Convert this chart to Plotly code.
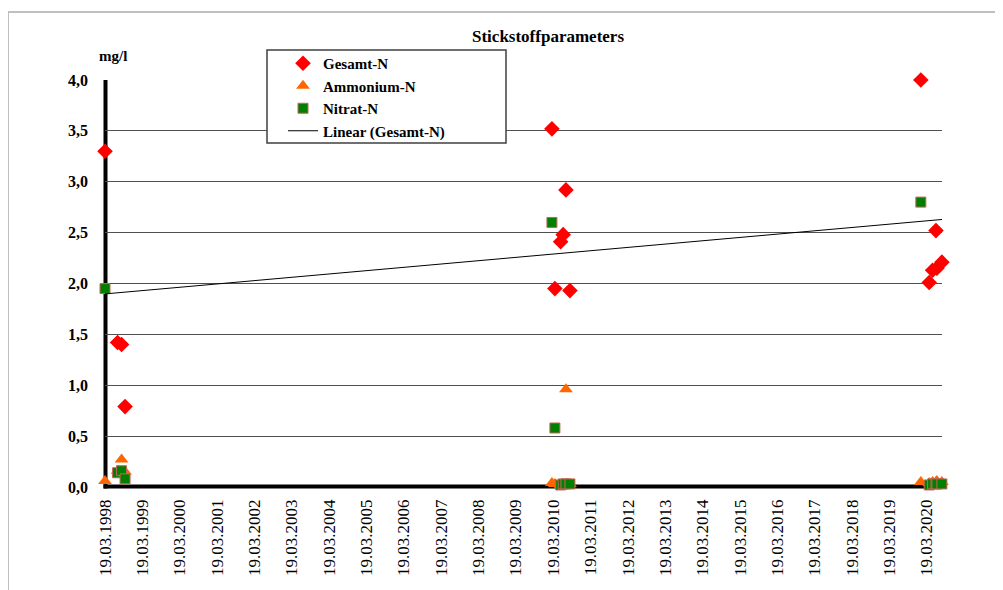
import numpy as np
import pandas as pd
import plotly.graph_objects as go

# ---- data ----
dates = ["1998-03-19", "1998-07-20", "1998-08-28", "1998-10-01",
         "2010-03-06", "2010-04-04", "2010-05-30", "2010-06-24", "2010-07-21", "2010-08-29",
         "2020-01-20", "2020-04-11", "2020-05-14", "2020-06-16", "2020-06-25", "2020-08-13"]
gesamt_n = [3.30, 1.42, 1.40, 0.79,
            3.52, 1.95, 2.41, 2.48, 2.92, 1.93,
            4.00, 2.01, 2.13, 2.52, 2.15, 2.21]
ammonium_n = [0.06, 0.16, 0.27, 0.15,
              0.04, 0.03, 0.02, 0.03, 0.96, 0.03,
              0.05, 0.04, 0.05, 0.05, 0.06, 0.05]
nitrat_n = [1.95, 0.14, 0.16, 0.08,
            2.60, 0.58, 0.02, 0.03, 0.03, 0.03,
            2.80, 0.02, 0.03, 0.03, 0.03, 0.03]

tick_years = list(range(1998, 2021))
tick_vals = [f"{y}-03-19" for y in tick_years]
tick_text = [f"19.03.{y}" for y in tick_years]
x_range = ["1998-03-19", "2020-08-14"]
y_ticks = [0, 0.5, 1.0, 1.5, 2.0, 2.5, 3.0, 3.5, 4.0]
y_grid = [0.5, 1.0, 1.5, 2.0, 2.5, 3.0, 3.5]

# linear trend of Gesamt-N (least squares over date)
d = pd.to_datetime(dates)
t = (d - pd.Timestamp("1970-01-01")).days.values.astype(float)
slope, intercept = np.polyfit(t, np.array(gesamt_n), 1)
xr = pd.to_datetime(x_range)
tr = (xr - pd.Timestamp("1970-01-01")).days.values.astype(float)
trend_y = slope * tr + intercept

FONT = "Liberation Serif, Times New Roman, DejaVu Serif, serif"

fig = go.Figure()
fig.add_trace(go.Scatter(x=dates, y=gesamt_n, mode="markers", name="Gesamt-N",
                         marker=dict(symbol="diamond", size=12, color="#FF0000",
                                     line=dict(width=0)),
                         cliponaxis=False))
fig.add_trace(go.Scatter(x=dates, y=ammonium_n, mode="markers", name="Ammonium-N",
                         marker=dict(symbol="triangle-up", size=12, color="#FF6600",
                                     line=dict(width=0)),
                         cliponaxis=False))
fig.add_trace(go.Scatter(x=dates, y=nitrat_n, mode="markers", name="Nitrat-N",
                         marker=dict(symbol="square", size=10, color="#008000",
                                     line=dict(width=1, color="#C8645A")),
                         cliponaxis=False))
fig.add_trace(go.Scatter(x=list(xr), y=list(trend_y), mode="lines",
                         name="Linear (Gesamt-N)",
                         line=dict(color="#000000", width=1)))

# page offset of the figure div (body margin)
O = 8
W, H = 1003 - O, 590 - O
L, T = 105 - O, 80 - O
R = W - L - 837
B = H - T - 407
pw, ph = W - L - R, H - T - B


def px(xp):
    return (xp - O - L) / pw


def py(yp):
    return 1 - (yp - O - T) / ph


fig.update_layout(
    width=W, height=H,
    margin=dict(l=L, r=R, t=T, b=B, pad=0),
    paper_bgcolor="white", plot_bgcolor="white",
    separators=",.",
    font=dict(family=FONT, color="black"),
    showlegend=True,
    legend=dict(x=px(283), y=py(47), xanchor="left", yanchor="top",
                bgcolor="rgba(0,0,0,0)", borderwidth=0,
                font=dict(family=FONT, size=15, weight="bold", color="black"),
                itemsizing="trace"),
    xaxis=dict(type="date", range=x_range, tickvals=tick_vals, ticktext=tick_text,
               tickangle=-90, tickfont=dict(family=FONT, size=17, color="black"),
               showgrid=False, showline=False,
               ticks="", zeroline=False, ticklabelstandoff=8),
    yaxis=dict(range=[0, 4], tickvals=y_ticks, tickformat=".1f",
               tickfont=dict(family=FONT, size=16, weight="bold", color="black"),
               showgrid=False, showline=False,
               ticks="", zeroline=False, ticklabelstandoff=16,
               minor=dict(tickvals=y_grid, showgrid=True, gridcolor="#505050",
                          gridwidth=1, ticks="")),
    annotations=[
        dict(text="<b>Stickstoffparameters</b>", x=px(548), y=py(36),
             xref="paper", yref="paper", showarrow=False,
             xanchor="center", yanchor="middle",
             font=dict(family=FONT, size=17, color="black")),
        dict(text="<b>mg/l</b>", x=px(113), y=py(56),
             xref="paper", yref="paper", showarrow=False,
             xanchor="center", yanchor="middle",
             font=dict(family=FONT, size=15, color="black")),
    ],
    shapes=[
        # chart-area border
        dict(type="rect", xref="paper", yref="paper",
             x0=px(8), x1=px(1012), y0=py(600), y1=py(12),
             line=dict(color="#BFBFBF", width=2), fillcolor="rgba(0,0,0,0)",
             layer="below"),
        # heavy axis lines
        dict(type="line", xref="paper", yref="paper",
             x0=px(105.5), x1=px(105.5), y0=py(488.5), y1=py(80),
             line=dict(color="black", width=4), layer="between"),
        dict(type="line", xref="paper", yref="paper",
             x0=px(103.5), x1=px(942), y0=py(486.5), y1=py(486.5),
             line=dict(color="black", width=4), layer="between"),
        # legend frame
        dict(type="rect", xref="paper", yref="paper",
             x0=px(267), x1=px(506), y0=py(143), y1=py(50),
             line=dict(color="#404040", width=1.5), fillcolor="white",
             layer="above"),
    ],
)

fig.write_html("out.html")
